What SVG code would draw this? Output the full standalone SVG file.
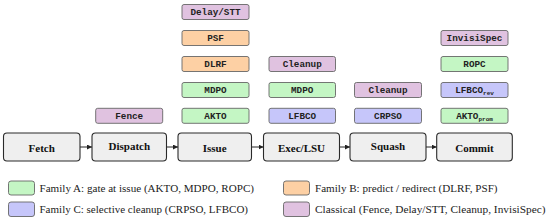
<svg xmlns="http://www.w3.org/2000/svg" width="550" height="222" viewBox="0 0 550 222">
<defs>
<marker id="ah" viewBox="0 0 6 6" refX="6" refY="3" markerWidth="5" markerHeight="5" orient="auto" markerUnits="userSpaceOnUse">
<path d="M0,0 L6,3 L0,6 z" fill="#222"/>
</marker>
<style>
.stage rect{fill:#efefef;stroke:#2a2a2a;stroke-width:1.1}
.stage text{font-family:"Liberation Serif",serif;font-weight:bold;font-size:11px;fill:#111;text-anchor:middle}
.lb rect{stroke:#666;stroke-width:0.9}
.lb text{font-family:"Liberation Mono","DejaVu Sans Mono",monospace;font-weight:bold;font-size:9.3px;fill:#222;text-anchor:middle}
.sub{font-size:6px}
.g{fill:#c4f6c4}
.o{fill:#fdd0a4}
.b{fill:#c6c6fa}
.p{fill:#e0c2e0}
.leg rect{stroke:#666;stroke-width:0.9}
.leg text{font-family:"Liberation Serif",serif;font-size:10.5px;fill:#222}
.conn line{stroke:#222;stroke-width:1;marker-end:url(#ah)}
</style>
</defs>

<g id="connectors" class="conn">
<line x1="80" y1="147" x2="92" y2="147"/>
<line x1="166.5" y1="147" x2="178" y2="147"/>
<line x1="251.5" y1="147" x2="263.5" y2="147"/>
<line x1="339.5" y1="147" x2="350" y2="147"/>
<line x1="426" y1="147" x2="436.7" y2="147"/>
</g>

<g id="stage-fetch" class="stage"><rect x="3.5" y="133" width="76.5" height="28" rx="3.5"/><text x="41.7" y="151.5">Fetch</text></g>
<g id="stage-dispatch" class="stage"><rect x="92" y="133" width="74.5" height="28" rx="3.5"/><text x="129.3" y="150">Dispatch</text></g>
<g id="stage-issue" class="stage"><rect x="178" y="133" width="73.5" height="28" rx="3.5"/><text x="214.7" y="151.5">Issue</text></g>
<g id="stage-exec" class="stage"><rect x="263.5" y="133" width="76" height="28" rx="3.5"/><text x="301.5" y="151.5">Exec/LSU</text></g>
<g id="stage-squash" class="stage"><rect x="350" y="133" width="76" height="28" rx="3.5"/><text x="388" y="150">Squash</text></g>
<g id="stage-commit" class="stage"><rect x="436.7" y="133" width="75.6" height="28" rx="3.5"/><text x="474.5" y="151.5">Commit</text></g>

<g id="lb-fence" class="lb"><rect class="p" x="95.7" y="108.3" width="67" height="15" rx="2"/><text x="129.2" y="119">Fence</text></g>

<g id="lb-delay" class="lb"><rect class="p" x="182" y="4.5" width="67" height="15" rx="2"/><text x="215.5" y="15.2">Delay/STT</text></g>
<g id="lb-psf" class="lb"><rect class="o" x="182" y="30.5" width="67" height="15" rx="2"/><text x="215.5" y="41.2">PSF</text></g>
<g id="lb-dlrf" class="lb"><rect class="o" x="182" y="56.5" width="67" height="15" rx="2"/><text x="215.5" y="67.2">DLRF</text></g>
<g id="lb-mdpo-issue" class="lb"><rect class="g" x="182" y="82.5" width="67" height="15" rx="2"/><text x="215.5" y="93.2">MDPO</text></g>
<g id="lb-akto" class="lb"><rect class="g" x="182" y="108.3" width="67" height="15" rx="2"/><text x="215.5" y="119">AKTO</text></g>

<g id="lb-cleanup-exec" class="lb"><rect class="p" x="269" y="56.5" width="66.5" height="15" rx="2"/><text x="302.2" y="67.2">Cleanup</text></g>
<g id="lb-mdpo-exec" class="lb"><rect class="g" x="269" y="82.5" width="66.5" height="15" rx="2"/><text x="302.2" y="93.2">MDPO</text></g>
<g id="lb-lfbco" class="lb"><rect class="b" x="269" y="108.3" width="66.5" height="15" rx="2"/><text x="302.2" y="119">LFBCO</text></g>

<g id="lb-cleanup-squash" class="lb"><rect class="p" x="354.5" y="82.5" width="67" height="15" rx="2"/><text x="388" y="93.2">Cleanup</text></g>
<g id="lb-crpso" class="lb"><rect class="b" x="354.5" y="108.3" width="67" height="15" rx="2"/><text x="388" y="119">CRPSO</text></g>

<g id="lb-invisispec" class="lb"><rect class="p" x="441" y="30.5" width="67" height="15" rx="2"/><text x="474.5" y="41.2">InvisiSpec</text></g>
<g id="lb-ropc" class="lb"><rect class="g" x="441" y="56.5" width="67" height="15" rx="2"/><text x="474.5" y="67.2">ROPC</text></g>
<g id="lb-lfbco-rev" class="lb"><rect class="b" x="441" y="82.5" width="67" height="15" rx="2"/><text x="474.5" y="93.2">LFBCO<tspan class="sub" dy="1.8">rev</tspan></text></g>
<g id="lb-akto-prom" class="lb"><rect class="g" x="441" y="108.3" width="67" height="15" rx="2"/><text x="474.5" y="119">AKTO<tspan class="sub" dy="1.8">prom</tspan></text></g>

<g id="legend" class="leg">
<rect class="g" x="8.5" y="181" width="26" height="14" rx="2.5"/>
<text x="39.5" y="191.5" textLength="214.5" lengthAdjust="spacingAndGlyphs">Family A: gate at issue (AKTO, MDPO, ROPC)</text>
<rect class="b" x="8.5" y="202" width="26" height="14.5" rx="2.5"/>
<text x="39.5" y="212.5" textLength="208.5" lengthAdjust="spacingAndGlyphs">Family C: selective cleanup (CRPSO, LFBCO)</text>
<rect class="o" x="283.5" y="181" width="26" height="14" rx="2.5"/>
<text x="315" y="191.5" textLength="182.5" lengthAdjust="spacingAndGlyphs">Family B: predict / redirect (DLRF, PSF)</text>
<rect class="p" x="283.5" y="202" width="26" height="14.5" rx="2.5"/>
<text x="315" y="212.5" textLength="230.5" lengthAdjust="spacingAndGlyphs">Classical (Fence, Delay/STT, Cleanup, InvisiSpec)</text>
</g>
</svg>
